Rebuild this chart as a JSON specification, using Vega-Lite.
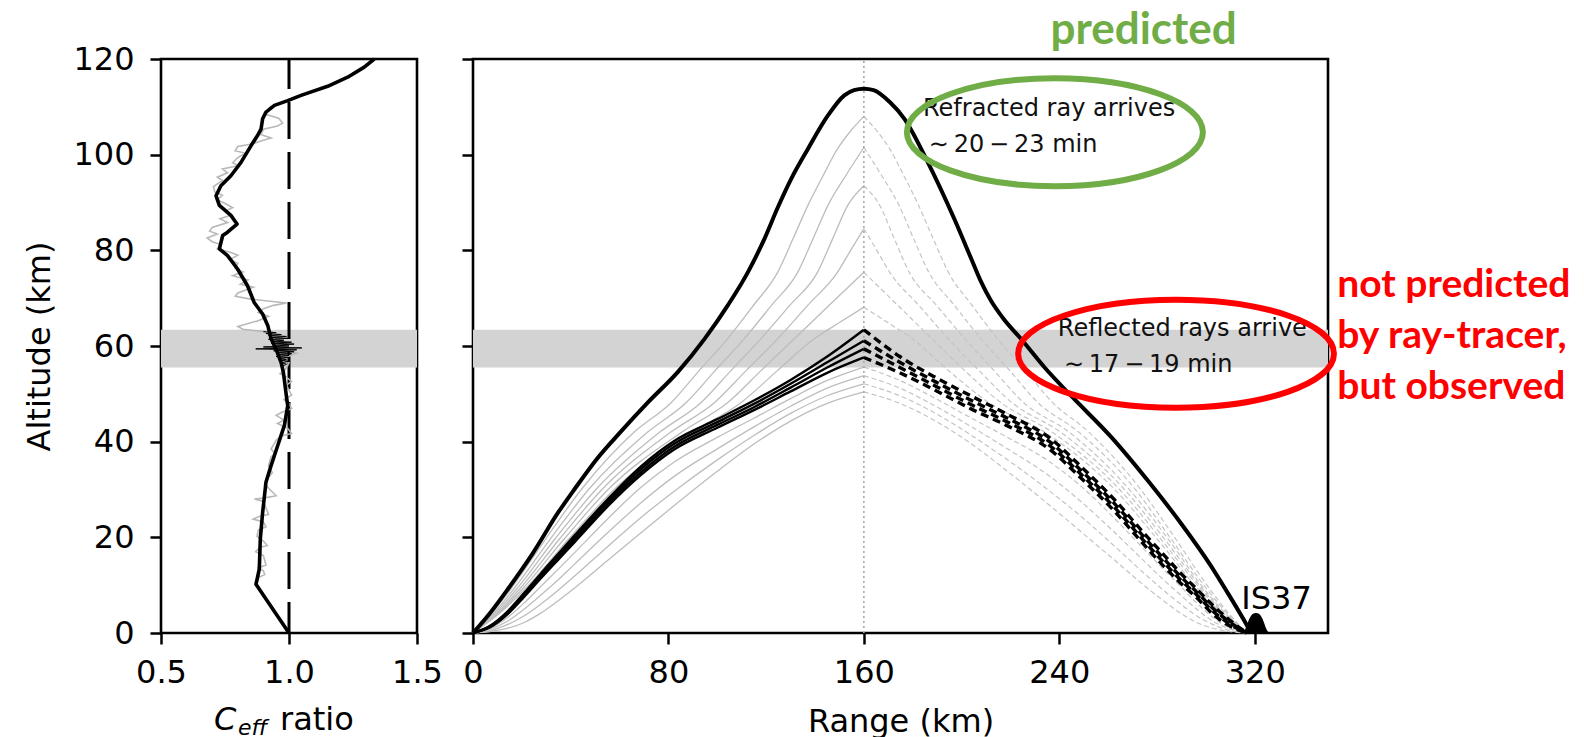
{
  "$schema": "https://vega.github.io/schema/vega-lite/v6.json",
  "background": "white",
  "padding": {"left": 22, "top": 7, "right": 0, "bottom": 0},
  "spacing": 15,
  "config": {
    "font": "DejaVu Sans",
    "view": {"stroke": "#000000", "strokeWidth": 2.6},
    "axis": {"domain": false, "grid": false, "labelFlush": false, "labelOverlap": false, "tickSize": 11, "tickWidth": 2.5, "tickColor": "#000000", "labelFont": "DejaVu Sans", "labelFontSize": 32, "labelColor": "#000000", "titleFont": "DejaVu Sans", "titleFontSize": 32, "titleFontWeight": "normal", "titleColor": "#000000"},
    "axisX": {"labelPadding": 13, "titlePadding": 18},
    "axisY": {"labelPadding": 16, "titlePadding": 16}
  },
  "datasets": {
    "ceff": [
      {"r":1.333,"a":120},{"r":1.294,"a":118.3},{"r":1.229,"a":116.2},{"r":1.151,"a":114.3},{"r":1.047,"a":112.4},{"r":0.995,"a":111.3},{"r":0.943,"a":110.3},{"r":0.91,"a":108.9},{"r":0.897,"a":107.5},{"r":0.891,"a":105.4},{"r":0.877,"a":104.0},{"r":0.852,"a":101.9},{"r":0.8125,"a":98.4},{"r":0.773,"a":95.6},{"r":0.734,"a":93.5},{"r":0.715,"a":91.4},{"r":0.728,"a":89.4},{"r":0.773,"a":87.3},{"r":0.797,"a":85.5},{"r":0.76,"a":83.8},{"r":0.741,"a":83.1},{"r":0.728,"a":80.3},{"r":0.76,"a":78.9},{"r":0.799,"a":76.1},{"r":0.838,"a":72.6},{"r":0.864,"a":69.1},{"r":0.897,"a":66.7},{"r":0.917,"a":64.3},{"r":0.93,"a":61.5},{"r":0.949,"a":59.4},{"r":0.969,"a":56.6},{"r":0.978,"a":54.5},{"r":0.988,"a":50.3},{"r":0.995,"a":47.5},{"r":0.982,"a":43.4},{"r":0.956,"a":39.2},{"r":0.93,"a":35.0},{"r":0.91,"a":31.5},{"r":0.897,"a":25.2},{"r":0.888,"a":19.7},{"r":0.884,"a":13.4},{"r":0.877,"a":11.6},{"r":0.871,"a":10.2},{"r":1.0,"a":0}
    ],
    "ceffGray": [
      {"r":0.93,"a":110.2},{"r":0.905,"a":108.5},{"r":0.96,"a":107.6},{"r":0.975,"a":106.6},{"r":0.955,"a":106.0},{"r":0.9,"a":105.3},{"r":0.89,"a":104.2},{"r":0.93,"a":103.5},{"r":0.9,"a":103.0},{"r":0.86,"a":102.3},{"r":0.8,"a":101.7},{"r":0.79,"a":100.8},{"r":0.83,"a":100.3},{"r":0.8,"a":99.4},{"r":0.78,"a":98.3},{"r":0.8,"a":97.7},{"r":0.74,"a":97.0},{"r":0.76,"a":96.2},{"r":0.72,"a":95.3},{"r":0.74,"a":94.6},{"r":0.705,"a":93.3},{"r":0.71,"a":92.2},{"r":0.74,"a":91.5},{"r":0.72,"a":90.6},{"r":0.75,"a":89.8},{"r":0.78,"a":88.9},{"r":0.75,"a":88.2},{"r":0.77,"a":87.3},{"r":0.73,"a":86.6},{"r":0.76,"a":85.8},{"r":0.7,"a":84.8},{"r":0.69,"a":84.0},{"r":0.72,"a":83.4},{"r":0.68,"a":82.6},{"r":0.7,"a":81.8},{"r":0.735,"a":81.2},{"r":0.72,"a":80.3},{"r":0.77,"a":79.6},{"r":0.8,"a":79.0},{"r":0.77,"a":78.1},{"r":0.8,"a":77.3},{"r":0.79,"a":76.2},{"r":0.82,"a":75.5},{"r":0.78,"a":74.7},{"r":0.84,"a":73.8},{"r":0.81,"a":72.9},{"r":0.86,"a":72.3},{"r":0.8,"a":71.1},{"r":0.79,"a":70.4},{"r":0.85,"a":69.8},{"r":0.99,"a":69.0},{"r":0.94,"a":68.5},{"r":0.9,"a":67.8},{"r":0.88,"a":67.0},{"r":0.92,"a":66.2},{"r":0.88,"a":65.3},{"r":0.8,"a":64.1},{"r":0.82,"a":63.5},{"r":0.9,"a":63.0},{"r":0.94,"a":62.0},{"r":0.97,"a":61.0},{"r":0.94,"a":60.2},{"r":0.99,"a":59.0},{"r":1.03,"a":58.5},{"r":0.97,"a":57.3},{"r":1.0,"a":56.5},{"r":0.985,"a":55.0},{"r":0.965,"a":54.2},{"r":0.99,"a":53.5},{"r":1.01,"a":52.6},{"r":0.99,"a":51.8},{"r":1.0,"a":50.8},{"r":1.01,"a":49.7},{"r":0.98,"a":48.8},{"r":1.0,"a":47.9},{"r":1.01,"a":46.9},{"r":0.97,"a":46.1},{"r":0.95,"a":45.5},{"r":0.98,"a":44.5},{"r":0.955,"a":43.8},{"r":0.995,"a":42.8},{"r":1.01,"a":41.7},{"r":0.97,"a":41.2},{"r":0.95,"a":40.3},{"r":0.93,"a":38.5},{"r":0.945,"a":37.5},{"r":0.93,"a":36.8},{"r":0.92,"a":35.0},{"r":0.935,"a":33.5},{"r":0.915,"a":32.2},{"r":0.905,"a":31.2},{"r":0.925,"a":30.0},{"r":0.95,"a":28.7},{"r":0.9,"a":28.2},{"r":0.865,"a":28.0},{"r":0.9,"a":27.5},{"r":0.92,"a":24.8},{"r":0.88,"a":24.3},{"r":0.86,"a":23.8},{"r":0.9,"a":23.2},{"r":0.91,"a":22.2},{"r":0.88,"a":21.5},{"r":0.875,"a":20.2},{"r":0.9,"a":19.2},{"r":0.915,"a":18.3},{"r":0.885,"a":17.9},{"r":0.87,"a":17.0},{"r":0.9,"a":16.2},{"r":0.91,"a":14.2},{"r":0.88,"a":13.6},{"r":0.9,"a":13.0},{"r":0.905,"a":12.2},{"r":0.88,"a":11.6},{"r":0.872,"a":10.4}
    ],
    "ceffJit": [
      {"r":0.9,"a":63.0},{"r":0.95,"a":62.8},{"r":0.91,"a":62.6},{"r":0.97,"a":62.4},{"r":0.92,"a":62.2},{"r":0.99,"a":62.0},{"r":0.93,"a":61.8},{"r":1.0,"a":61.6},{"r":0.92,"a":61.4},{"r":0.98,"a":61.2},{"r":0.94,"a":61.0},{"r":1.01,"a":60.8},{"r":0.93,"a":60.6},{"r":1.02,"a":60.4},{"r":0.95,"a":60.2},{"r":1.0,"a":60.0},{"r":0.9,"a":59.8},{"r":1.05,"a":59.6},{"r":0.87,"a":59.4},{"r":1.03,"a":59.2},{"r":0.94,"a":59.0},{"r":1.02,"a":58.8},{"r":0.95,"a":58.6},{"r":1.01,"a":58.4},{"r":0.96,"a":58.2},{"r":1.0,"a":58.0},{"r":0.95,"a":57.8},{"r":1.0,"a":57.6},{"r":0.96,"a":57.4},{"r":0.99,"a":57.2},{"r":0.97,"a":57.0},{"r":1.0,"a":56.8},{"r":0.97,"a":56.5},{"r":0.99,"a":56.2},{"r":0.975,"a":55.8}
    ],
    "rays": [
      {"g":"r1","k":"gu","x":0,"y":0},{"g":"r1","k":"gu","x":7.5,"y":4},{"g":"r1","k":"gu","x":15.5,"y":9.2},{"g":"r1","k":"gu","x":29.8,"y":19.7},{"g":"r1","k":"gu","x":44.5,"y":30.1},{"g":"r1","k":"gu","x":66,"y":42},{"g":"r1","k":"gu","x":81.2,"y":48.2},{"g":"r1","k":"gu","x":92.5,"y":54.8},{"g":"r1","k":"gu","x":104.2,"y":61.5},{"g":"r1","k":"gu","x":114.5,"y":68.3},{"g":"r1","k":"gu","x":124.7,"y":75.4},{"g":"r1","k":"gu","x":131,"y":82.4},{"g":"r1","k":"gu","x":137.1,"y":89.4},{"g":"r1","k":"gu","x":143.2,"y":95.5},{"g":"r1","k":"gu","x":149.2,"y":101.2},{"g":"r1","k":"gu","x":154.5,"y":104.9},{"g":"r1","k":"gu","x":160,"y":108},
      {"g":"r1","k":"gd","x":160,"y":108},{"g":"r1","k":"gd","x":165.4,"y":104.9},{"g":"r1","k":"gd","x":170.6,"y":101.2},{"g":"r1","k":"gd","x":176.5,"y":95.5},{"g":"r1","k":"gd","x":182.4,"y":89.4},{"g":"r1","k":"gd","x":188.4,"y":82.4},{"g":"r1","k":"gd","x":194.6,"y":75.4},{"g":"r1","k":"gd","x":204.6,"y":68.3},{"g":"r1","k":"gd","x":214.7,"y":61.5},{"g":"r1","k":"gd","x":226.2,"y":54.8},{"g":"r1","k":"gd","x":237.2,"y":48.2},{"g":"r1","k":"gd","x":252.1,"y":42},{"g":"r1","k":"gd","x":273.2,"y":30.1},{"g":"r1","k":"gd","x":287.6,"y":19.7},{"g":"r1","k":"gd","x":301.6,"y":9.2},{"g":"r1","k":"gd","x":309.5,"y":4},{"g":"r1","k":"gd","x":316.8,"y":0},
      {"g":"r2","k":"gu","x":0,"y":0},{"g":"r2","k":"gu","x":8.2,"y":4},{"g":"r2","k":"gu","x":16.7,"y":9.2},{"g":"r2","k":"gu","x":31.7,"y":19.7},{"g":"r2","k":"gu","x":47.5,"y":30.1},{"g":"r2","k":"gu","x":71.5,"y":42},{"g":"r2","k":"gu","x":87.3,"y":48.2},{"g":"r2","k":"gu","x":99,"y":54.8},{"g":"r2","k":"gu","x":111,"y":61.5},{"g":"r2","k":"gu","x":122,"y":68.4},{"g":"r2","k":"gu","x":132.9,"y":75.4},{"g":"r2","k":"gu","x":139.2,"y":82.4},{"g":"r2","k":"gu","x":145.3,"y":89.4},{"g":"r2","k":"gu","x":152.7,"y":95.7},{"g":"r2","k":"gu","x":160,"y":101.5},
      {"g":"r2","k":"gd","x":160,"y":101.5},{"g":"r2","k":"gd","x":167.2,"y":95.7},{"g":"r2","k":"gd","x":174.4,"y":89.4},{"g":"r2","k":"gd","x":180.4,"y":82.4},{"g":"r2","k":"gd","x":186.6,"y":75.4},{"g":"r2","k":"gd","x":197.2,"y":68.4},{"g":"r2","k":"gd","x":208,"y":61.5},{"g":"r2","k":"gd","x":219.8,"y":54.8},{"g":"r2","k":"gd","x":231.2,"y":48.2},{"g":"r2","k":"gd","x":248,"y":42},{"g":"r2","k":"gd","x":271,"y":30.1},{"g":"r2","k":"gd","x":285.7,"y":19.7},{"g":"r2","k":"gd","x":300.4,"y":9.2},{"g":"r2","k":"gd","x":308.8,"y":4},{"g":"r2","k":"gd","x":316.8,"y":0},
      {"g":"r3","k":"gu","x":0,"y":0},{"g":"r3","k":"gu","x":8.8,"y":4},{"g":"r3","k":"gu","x":17.9,"y":9.2},{"g":"r3","k":"gu","x":33.6,"y":19.7},{"g":"r3","k":"gu","x":50.5,"y":30.1},{"g":"r3","k":"gu","x":76.5,"y":42},{"g":"r3","k":"gu","x":93.4,"y":48.2},{"g":"r3","k":"gu","x":105.5,"y":54.8},{"g":"r3","k":"gu","x":117.8,"y":61.5},{"g":"r3","k":"gu","x":129.5,"y":68.4},{"g":"r3","k":"gu","x":141,"y":75.4},{"g":"r3","k":"gu","x":147.3,"y":82.5},{"g":"r3","k":"gu","x":153.4,"y":89.4},{"g":"r3","k":"gu","x":160,"y":93.5},
      {"g":"r3","k":"gd","x":160,"y":93.5},{"g":"r3","k":"gd","x":166.5,"y":89.4},{"g":"r3","k":"gd","x":172.4,"y":82.5},{"g":"r3","k":"gd","x":178.6,"y":75.4},{"g":"r3","k":"gd","x":189.9,"y":68.4},{"g":"r3","k":"gd","x":201.4,"y":61.5},{"g":"r3","k":"gd","x":213.4,"y":54.8},{"g":"r3","k":"gd","x":225.3,"y":48.2},{"g":"r3","k":"gd","x":244,"y":42},{"g":"r3","k":"gd","x":268.5,"y":30.1},{"g":"r3","k":"gd","x":284.5,"y":19.7},{"g":"r3","k":"gd","x":299.3,"y":9.2},{"g":"r3","k":"gd","x":308.2,"y":4},{"g":"r3","k":"gd","x":316.8,"y":0},
      {"g":"r4","k":"gu","x":0,"y":0},{"g":"r4","k":"gu","x":9.5,"y":4},{"g":"r4","k":"gu","x":19.1,"y":9.2},{"g":"r4","k":"gu","x":35.5,"y":19.7},{"g":"r4","k":"gu","x":53,"y":30.1},{"g":"r4","k":"gu","x":81,"y":42},{"g":"r4","k":"gu","x":98.9,"y":48.2},{"g":"r4","k":"gu","x":111.7,"y":54.8},{"g":"r4","k":"gu","x":124.7,"y":61.5},{"g":"r4","k":"gu","x":137,"y":68.5},{"g":"r4","k":"gu","x":149.2,"y":75.4},{"g":"r4","k":"gu","x":154.7,"y":80.1},{"g":"r4","k":"gu","x":160,"y":84.5},
      {"g":"r4","k":"gd","x":160,"y":84.5},{"g":"r4","k":"gd","x":165.2,"y":80.1},{"g":"r4","k":"gd","x":170.6,"y":75.4},{"g":"r4","k":"gd","x":182.5,"y":68.5},{"g":"r4","k":"gd","x":194.6,"y":61.5},{"g":"r4","k":"gd","x":207.3,"y":54.8},{"g":"r4","k":"gd","x":220.5,"y":48.2},{"g":"r4","k":"gd","x":240.5,"y":42},{"g":"r4","k":"gd","x":266.5,"y":30.1},{"g":"r4","k":"gd","x":283,"y":19.7},{"g":"r4","k":"gd","x":298.6,"y":9.2},{"g":"r4","k":"gd","x":307.6,"y":4},{"g":"r4","k":"gd","x":316.8,"y":0},
      {"g":"r5","k":"gu","x":0,"y":0},{"g":"r5","k":"gu","x":10.1,"y":4},{"g":"r5","k":"gu","x":20.2,"y":9.2},{"g":"r5","k":"gu","x":37.4,"y":19.7},{"g":"r5","k":"gu","x":55.5,"y":30.1},{"g":"r5","k":"gu","x":85.5,"y":42},{"g":"r5","k":"gu","x":104.3,"y":48.2},{"g":"r5","k":"gu","x":118,"y":54.9},{"g":"r5","k":"gu","x":131.5,"y":61.5},{"g":"r5","k":"gu","x":145.8,"y":68.5},{"g":"r5","k":"gu","x":160,"y":75.4},
      {"g":"r5","k":"gd","x":160,"y":75.4},{"g":"r5","k":"gd","x":173.9,"y":68.5},{"g":"r5","k":"gd","x":187.9,"y":61.5},{"g":"r5","k":"gd","x":201.2,"y":54.9},{"g":"r5","k":"gd","x":216,"y":48.2},{"g":"r5","k":"gd","x":237,"y":42},{"g":"r5","k":"gd","x":264.5,"y":30.1},{"g":"r5","k":"gd","x":281.5,"y":19.7},{"g":"r5","k":"gd","x":297.8,"y":9.2},{"g":"r5","k":"gd","x":307.2,"y":4},{"g":"r5","k":"gd","x":316.8,"y":0},
      {"g":"r6","k":"gu","x":0,"y":0},{"g":"r6","k":"gu","x":10.6,"y":4},{"g":"r6","k":"gu","x":21.3,"y":9.2},{"g":"r6","k":"gu","x":39.3,"y":19.7},{"g":"r6","k":"gu","x":58,"y":30.1},{"g":"r6","k":"gu","x":90,"y":42},{"g":"r6","k":"gu","x":109.8,"y":48.2},{"g":"r6","k":"gu","x":124.5,"y":54.8},{"g":"r6","k":"gu","x":139.7,"y":61.5},{"g":"r6","k":"gu","x":150,"y":64.9},{"g":"r6","k":"gu","x":160,"y":68.1},
      {"g":"r6","k":"gd","x":160,"y":68.1},{"g":"r6","k":"gd","x":169.8,"y":64.9},{"g":"r6","k":"gd","x":179.9,"y":61.5},{"g":"r6","k":"gd","x":194.8,"y":54.8},{"g":"r6","k":"gd","x":211,"y":48.2},{"g":"r6","k":"gd","x":234,"y":42},{"g":"r6","k":"gd","x":262.5,"y":30.1},{"g":"r6","k":"gd","x":280,"y":19.7},{"g":"r6","k":"gd","x":296.8,"y":9.2},{"g":"r6","k":"gd","x":306.8,"y":4},{"g":"r6","k":"gd","x":316.8,"y":0},
      {"g":"l1","k":"gu","x":0,"y":0},{"g":"l1","k":"gu","x":7,"y":1.0},{"g":"l1","k":"gu","x":14.3,"y":3.3},{"g":"l1","k":"gu","x":21,"y":6.3},{"g":"l1","k":"gu","x":27.9,"y":9.8},{"g":"l1","k":"gu","x":35,"y":13.4},{"g":"l1","k":"gu","x":41.6,"y":16.8},{"g":"l1","k":"gu","x":55.2,"y":23.9},{"g":"l1","k":"gu","x":68.9,"y":30.5},{"g":"l1","k":"gu","x":82.5,"y":35.8},{"g":"l1","k":"gu","x":100,"y":40.9},{"g":"l1","k":"gu","x":115,"y":44.9},{"g":"l1","k":"gu","x":130,"y":49.0},{"g":"l1","k":"gu","x":145,"y":52.8},{"g":"l1","k":"gu","x":160,"y":55.6},
      {"g":"l1","k":"gd","x":160,"y":55.6},{"g":"l1","k":"gd","x":174.7,"y":52.8},{"g":"l1","k":"gd","x":189.4,"y":49.0},{"g":"l1","k":"gd","x":204.1,"y":44.9},{"g":"l1","k":"gd","x":218.8,"y":40.9},{"g":"l1","k":"gd","x":236,"y":35.8},{"g":"l1","k":"gd","x":249.3,"y":30.5},{"g":"l1","k":"gd","x":262.7,"y":23.9},{"g":"l1","k":"gd","x":276,"y":16.8},{"g":"l1","k":"gd","x":282.5,"y":13.4},{"g":"l1","k":"gd","x":289.5,"y":9.8},{"g":"l1","k":"gd","x":296.2,"y":6.3},{"g":"l1","k":"gd","x":302.8,"y":3.3},{"g":"l1","k":"gd","x":310,"y":1.0},{"g":"l1","k":"gd","x":316.8,"y":0},
      {"g":"l2","k":"gu","x":0,"y":0},{"g":"l2","k":"gu","x":7,"y":0.8},{"g":"l2","k":"gu","x":14.3,"y":2.5},{"g":"l2","k":"gu","x":21,"y":5.0},{"g":"l2","k":"gu","x":27.9,"y":8.0},{"g":"l2","k":"gu","x":35,"y":11.2},{"g":"l2","k":"gu","x":41.6,"y":14.4},{"g":"l2","k":"gu","x":55.2,"y":21.0},{"g":"l2","k":"gu","x":68.9,"y":27.3},{"g":"l2","k":"gu","x":82.5,"y":32.8},{"g":"l2","k":"gu","x":100,"y":38.5},{"g":"l2","k":"gu","x":115,"y":43.1},{"g":"l2","k":"gu","x":130,"y":47.4},{"g":"l2","k":"gu","x":145,"y":51.2},{"g":"l2","k":"gu","x":160,"y":53.8},
      {"g":"l2","k":"gd","x":160,"y":53.8},{"g":"l2","k":"gd","x":174.7,"y":51.2},{"g":"l2","k":"gd","x":189.4,"y":47.4},{"g":"l2","k":"gd","x":204.1,"y":43.1},{"g":"l2","k":"gd","x":218.8,"y":38.5},{"g":"l2","k":"gd","x":236,"y":32.8},{"g":"l2","k":"gd","x":249.3,"y":27.3},{"g":"l2","k":"gd","x":262.7,"y":21.0},{"g":"l2","k":"gd","x":276,"y":14.4},{"g":"l2","k":"gd","x":282.5,"y":11.2},{"g":"l2","k":"gd","x":289.5,"y":8.0},{"g":"l2","k":"gd","x":296.2,"y":5.0},{"g":"l2","k":"gd","x":302.8,"y":2.5},{"g":"l2","k":"gd","x":310,"y":0.8},{"g":"l2","k":"gd","x":316.8,"y":0},
      {"g":"l3","k":"gu","x":0,"y":0},{"g":"l3","k":"gu","x":7,"y":0.5},{"g":"l3","k":"gu","x":14.3,"y":1.8},{"g":"l3","k":"gu","x":21,"y":3.6},{"g":"l3","k":"gu","x":27.9,"y":6.1},{"g":"l3","k":"gu","x":35,"y":9.0},{"g":"l3","k":"gu","x":41.6,"y":11.9},{"g":"l3","k":"gu","x":55.2,"y":18.1},{"g":"l3","k":"gu","x":68.9,"y":24.2},{"g":"l3","k":"gu","x":82.5,"y":29.7},{"g":"l3","k":"gu","x":100,"y":36.2},{"g":"l3","k":"gu","x":115,"y":41.3},{"g":"l3","k":"gu","x":130,"y":45.9},{"g":"l3","k":"gu","x":145,"y":49.6},{"g":"l3","k":"gu","x":160,"y":52.1},
      {"g":"l3","k":"gd","x":160,"y":52.1},{"g":"l3","k":"gd","x":174.7,"y":49.6},{"g":"l3","k":"gd","x":189.4,"y":45.9},{"g":"l3","k":"gd","x":204.1,"y":41.3},{"g":"l3","k":"gd","x":218.8,"y":36.2},{"g":"l3","k":"gd","x":236,"y":29.7},{"g":"l3","k":"gd","x":249.3,"y":24.2},{"g":"l3","k":"gd","x":262.7,"y":18.1},{"g":"l3","k":"gd","x":276,"y":11.9},{"g":"l3","k":"gd","x":282.5,"y":9.0},{"g":"l3","k":"gd","x":289.5,"y":6.1},{"g":"l3","k":"gd","x":296.2,"y":3.6},{"g":"l3","k":"gd","x":302.8,"y":1.8},{"g":"l3","k":"gd","x":310,"y":0.5},{"g":"l3","k":"gd","x":316.8,"y":0},
      {"g":"l4","k":"gu","x":0,"y":0},{"g":"l4","k":"gu","x":7,"y":0.3},{"g":"l4","k":"gu","x":14.3,"y":1.0},{"g":"l4","k":"gu","x":21,"y":2.2},{"g":"l4","k":"gu","x":27.9,"y":4.2},{"g":"l4","k":"gu","x":35,"y":6.8},{"g":"l4","k":"gu","x":41.6,"y":9.4},{"g":"l4","k":"gu","x":55.2,"y":15.2},{"g":"l4","k":"gu","x":68.9,"y":21.0},{"g":"l4","k":"gu","x":82.5,"y":26.7},{"g":"l4","k":"gu","x":100,"y":33.8},{"g":"l4","k":"gu","x":115,"y":39.5},{"g":"l4","k":"gu","x":130,"y":44.3},{"g":"l4","k":"gu","x":145,"y":48.0},{"g":"l4","k":"gu","x":160,"y":50.4},
      {"g":"l4","k":"gd","x":160,"y":50.4},{"g":"l4","k":"gd","x":174.7,"y":48.0},{"g":"l4","k":"gd","x":189.4,"y":44.3},{"g":"l4","k":"gd","x":204.1,"y":39.5},{"g":"l4","k":"gd","x":218.8,"y":33.8},{"g":"l4","k":"gd","x":236,"y":26.7},{"g":"l4","k":"gd","x":249.3,"y":21.0},{"g":"l4","k":"gd","x":262.7,"y":15.2},{"g":"l4","k":"gd","x":276,"y":9.4},{"g":"l4","k":"gd","x":282.5,"y":6.8},{"g":"l4","k":"gd","x":289.5,"y":4.2},{"g":"l4","k":"gd","x":296.2,"y":2.2},{"g":"l4","k":"gd","x":302.8,"y":1.0},{"g":"l4","k":"gd","x":310,"y":0.3},{"g":"l4","k":"gd","x":316.8,"y":0},
      {"g":"b1","k":"bu","x":0,"y":0},{"g":"b1","k":"bu","x":7,"y":1.5},{"g":"b1","k":"bu","x":14.3,"y":4.6},{"g":"b1","k":"bu","x":21,"y":8.4},{"g":"b1","k":"bu","x":27.9,"y":12.5},{"g":"b1","k":"bu","x":35,"y":16.6},{"g":"b1","k":"bu","x":41.6,"y":20.4},{"g":"b1","k":"bu","x":55.2,"y":28.0},{"g":"b1","k":"bu","x":68.9,"y":34.9},{"g":"b1","k":"bu","x":82.5,"y":40.2},{"g":"b1","k":"bu","x":100,"y":44.7},{"g":"b1","k":"bu","x":115,"y":48.6},{"g":"b1","k":"bu","x":130,"y":52.9},{"g":"b1","k":"bu","x":145,"y":57.8},{"g":"b1","k":"bu","x":160,"y":63.4},
      {"g":"b1","k":"bd","x":160,"y":63.4},{"g":"b1","k":"bd","x":174.7,"y":57.8},{"g":"b1","k":"bd","x":189.4,"y":53.4},{"g":"b1","k":"bd","x":204.1,"y":49.5},{"g":"b1","k":"bd","x":218.8,"y":45.7},{"g":"b1","k":"bd","x":236,"y":40.8},{"g":"b1","k":"bd","x":249.3,"y":34.6},{"g":"b1","k":"bd","x":262.7,"y":27.8},{"g":"b1","k":"bd","x":276,"y":20.1},{"g":"b1","k":"bd","x":282.5,"y":16.5},{"g":"b1","k":"bd","x":289.5,"y":12.6},{"g":"b1","k":"bd","x":296.2,"y":9.2},{"g":"b1","k":"bd","x":302.8,"y":5.8},{"g":"b1","k":"bd","x":310,"y":2.6},{"g":"b1","k":"bd","x":316.8,"y":0},
      {"g":"b2","k":"bu","x":0,"y":0},{"g":"b2","k":"bu","x":7,"y":1.4},{"g":"b2","k":"bu","x":14.3,"y":4.4},{"g":"b2","k":"bu","x":21,"y":8.2},{"g":"b2","k":"bu","x":27.9,"y":12.2},{"g":"b2","k":"bu","x":35,"y":16.2},{"g":"b2","k":"bu","x":41.6,"y":19.9},{"g":"b2","k":"bu","x":55.2,"y":27.5},{"g":"b2","k":"bu","x":68.9,"y":34.3},{"g":"b2","k":"bu","x":82.5,"y":39.6},{"g":"b2","k":"bu","x":100,"y":44.1},{"g":"b2","k":"bu","x":115,"y":47.9},{"g":"b2","k":"bu","x":130,"y":52.1},{"g":"b2","k":"bu","x":145,"y":56.6},{"g":"b2","k":"bu","x":160,"y":61.1},
      {"g":"b2","k":"bd","x":160,"y":61.1},{"g":"b2","k":"bd","x":174.7,"y":56.6},{"g":"b2","k":"bd","x":189.4,"y":52.5},{"g":"b2","k":"bd","x":204.1,"y":48.6},{"g":"b2","k":"bd","x":218.8,"y":44.9},{"g":"b2","k":"bd","x":236,"y":40.0},{"g":"b2","k":"bd","x":249.3,"y":33.8},{"g":"b2","k":"bd","x":262.7,"y":27.0},{"g":"b2","k":"bd","x":276,"y":19.3},{"g":"b2","k":"bd","x":282.5,"y":15.7},{"g":"b2","k":"bd","x":289.5,"y":11.9},{"g":"b2","k":"bd","x":296.2,"y":8.6},{"g":"b2","k":"bd","x":302.8,"y":5.2},{"g":"b2","k":"bd","x":310,"y":2.2},{"g":"b2","k":"bd","x":316.8,"y":0},
      {"g":"b3","k":"bu","x":0,"y":0},{"g":"b3","k":"bu","x":7,"y":1.3},{"g":"b3","k":"bu","x":14.3,"y":4.2},{"g":"b3","k":"bu","x":21,"y":7.9},{"g":"b3","k":"bu","x":27.9,"y":11.9},{"g":"b3","k":"bu","x":35,"y":15.8},{"g":"b3","k":"bu","x":41.6,"y":19.4},{"g":"b3","k":"bu","x":55.2,"y":27.0},{"g":"b3","k":"bu","x":68.9,"y":33.7},{"g":"b3","k":"bu","x":82.5,"y":39.0},{"g":"b3","k":"bu","x":100,"y":43.5},{"g":"b3","k":"bu","x":115,"y":47.2},{"g":"b3","k":"bu","x":130,"y":51.3},{"g":"b3","k":"bu","x":145,"y":55.5},{"g":"b3","k":"bu","x":160,"y":59.4},
      {"g":"b3","k":"bd","x":160,"y":59.4},{"g":"b3","k":"bd","x":174.7,"y":55.5},{"g":"b3","k":"bd","x":189.4,"y":51.6},{"g":"b3","k":"bd","x":204.1,"y":47.7},{"g":"b3","k":"bd","x":218.8,"y":44.1},{"g":"b3","k":"bd","x":236,"y":39.2},{"g":"b3","k":"bd","x":249.3,"y":33.0},{"g":"b3","k":"bd","x":262.7,"y":26.2},{"g":"b3","k":"bd","x":276,"y":18.5},{"g":"b3","k":"bd","x":282.5,"y":14.9},{"g":"b3","k":"bd","x":289.5,"y":11.2},{"g":"b3","k":"bd","x":296.2,"y":8.0},{"g":"b3","k":"bd","x":302.8,"y":4.6},{"g":"b3","k":"bd","x":310,"y":1.8},{"g":"b3","k":"bd","x":316.8,"y":0},
      {"g":"b4","k":"bu","x":0,"y":0},{"g":"b4","k":"bu","x":7,"y":1.2},{"g":"b4","k":"bu","x":14.3,"y":4.0},{"g":"b4","k":"bu","x":21,"y":7.6},{"g":"b4","k":"bu","x":27.9,"y":11.5},{"g":"b4","k":"bu","x":35,"y":15.4},{"g":"b4","k":"bu","x":41.6,"y":19.0},{"g":"b4","k":"bu","x":55.2,"y":26.5},{"g":"b4","k":"bu","x":68.9,"y":33.1},{"g":"b4","k":"bu","x":82.5,"y":38.4},{"g":"b4","k":"bu","x":100,"y":42.9},{"g":"b4","k":"bu","x":115,"y":46.6},{"g":"b4","k":"bu","x":130,"y":50.5},{"g":"b4","k":"bu","x":145,"y":54.4},{"g":"b4","k":"bu","x":160,"y":57.6},
      {"g":"b4","k":"bd","x":160,"y":57.6},{"g":"b4","k":"bd","x":174.7,"y":54.4},{"g":"b4","k":"bd","x":189.4,"y":50.7},{"g":"b4","k":"bd","x":204.1,"y":46.8},{"g":"b4","k":"bd","x":218.8,"y":43.3},{"g":"b4","k":"bd","x":236,"y":38.4},{"g":"b4","k":"bd","x":249.3,"y":32.2},{"g":"b4","k":"bd","x":262.7,"y":25.4},{"g":"b4","k":"bd","x":276,"y":17.7},{"g":"b4","k":"bd","x":282.5,"y":14.1},{"g":"b4","k":"bd","x":289.5,"y":10.5},{"g":"b4","k":"bd","x":296.2,"y":7.4},{"g":"b4","k":"bd","x":302.8,"y":4.0},{"g":"b4","k":"bd","x":310,"y":1.4},{"g":"b4","k":"bd","x":316.8,"y":0},
      {"g":"o","k":"o","x":0,"y":0},{"g":"o","k":"o","x":7,"y":4.2},{"g":"o","k":"o","x":14.3,"y":9.2},{"g":"o","k":"o","x":24.4,"y":16.6},{"g":"o","k":"o","x":35,"y":25.3},{"g":"o","k":"o","x":41.6,"y":30.1},{"g":"o","k":"o","x":50.7,"y":36.4},{"g":"o","k":"o","x":60.7,"y":42.2},{"g":"o","k":"o","x":71.6,"y":48.2},{"g":"o","k":"o","x":83.9,"y":54.6},{"g":"o","k":"o","x":94.8,"y":61.5},{"g":"o","k":"o","x":104.3,"y":68.5},{"g":"o","k":"o","x":112.5,"y":75.4},{"g":"o","k":"o","x":119.3,"y":82.4},{"g":"o","k":"o","x":124.8,"y":89.0},{"g":"o","k":"o","x":130.2,"y":94.9},{"g":"o","k":"o","x":137.1,"y":101.2},{"g":"o","k":"o","x":145.3,"y":108.2},{"g":"o","k":"o","x":152,"y":112.4},{"g":"o","k":"o","x":156,"y":113.5},{"g":"o","k":"o","x":160,"y":113.8},{"g":"o","k":"o","x":164,"y":113.5},{"g":"o","k":"o","x":170.6,"y":111},{"g":"o","k":"o","x":176.6,"y":107.5},{"g":"o","k":"o","x":186.2,"y":98.4},{"g":"o","k":"o","x":197,"y":86.6},{"g":"o","k":"o","x":204,"y":78.2},{"g":"o","k":"o","x":208,"y":73.4},{"g":"o","k":"o","x":212,"y":69.5},{"g":"o","k":"o","x":217,"y":65.8},{"g":"o","k":"o","x":224.3,"y":61.5},{"g":"o","k":"o","x":234,"y":55.5},{"g":"o","k":"o","x":244.8,"y":49.6},{"g":"o","k":"o","x":261.2,"y":41.0},{"g":"o","k":"o","x":276.8,"y":31.5},{"g":"o","k":"o","x":290,"y":22.8},{"g":"o","k":"o","x":302,"y":14.1},{"g":"o","k":"o","x":310,"y":7.5},{"g":"o","k":"o","x":315.7,"y":2.6},{"g":"o","k":"o","x":318.5,"y":0}
    ]
  },
  "hconcat": [
    {
      "width": 256,
      "height": 574,
      "encoding": {
        "x": {"field": "r", "type": "quantitative", "scale": {"domain": [0.5, 1.5], "nice": false, "zero": false}, "axis": {"title": null, "values": [0.5, 1.0, 1.5], "format": ".1f"}},
        "y": {"field": "a", "type": "quantitative", "scale": {"domain": [0, 120], "nice": false}, "axis": {"title": "Altitude (km)", "values": [0, 20, 40, 60, 80, 100, 120]}}
      },
      "layer": [
        {"data": {"values": [{"r": 0.5, "r2": 1.5, "a": 55.5, "a2": 63.4}]}, "mark": {"type": "rect", "color": "#d3d3d3"}, "encoding": {"x2": {"field": "r2"}, "y2": {"field": "a2"}}},
        {"data": {"values": [{"r": 1.0, "a": 0, "a2": 120}]}, "mark": {"type": "rule", "color": "#000000", "strokeWidth": 3, "strokeDash": [37, 13], "strokeDashOffset": 6}, "encoding": {"y2": {"field": "a2"}}},
        {"data": {"name": "ceffGray"}, "mark": {"type": "line", "color": "#b8b8b8", "strokeWidth": 1.6}, "encoding": {"order": {"field": "a", "type": "quantitative"}}},
        {"data": {"name": "ceffJit"}, "mark": {"type": "line", "color": "#000000", "strokeWidth": 1}, "encoding": {"order": {"field": "a", "type": "quantitative"}}},
        {"data": {"name": "ceff"}, "mark": {"type": "line", "color": "#000000", "strokeWidth": 3.6, "strokeJoin": "round"}, "encoding": {"order": {"field": "a", "type": "quantitative"}}},
        {"data": {"values": [{"r": 1.0, "a": 0, "t": "C"}]}, "mark": {"type": "text", "font": "DejaVu Sans", "fontSize": 32, "fontStyle": "italic", "align": "left", "baseline": "alphabetic", "dx": -75, "dy": 97, "color": "#000000"}, "encoding": {"text": {"field": "t"}}},
        {"data": {"values": [{"r": 1.0, "a": 0, "t": "eff"}]}, "mark": {"type": "text", "font": "DejaVu Sans", "fontSize": 22, "fontStyle": "italic", "align": "left", "baseline": "alphabetic", "dx": -51, "dy": 102, "color": "#000000"}, "encoding": {"text": {"field": "t"}}},
        {"data": {"values": [{"r": 1.0, "a": 0, "t": "ratio"}]}, "mark": {"type": "text", "font": "DejaVu Sans", "fontSize": 32, "align": "left", "baseline": "alphabetic", "dx": -9, "dy": 97, "color": "#000000"}, "encoding": {"text": {"field": "t"}}},
        {"data": {"values": [{"r": 1.0, "a": 123.15, "t": "predicted"}]}, "mark": {"type": "text", "font": "Lato", "fontWeight": "bold", "fontSize": 44, "align": "center", "baseline": "alphabetic", "opacity": 0}, "encoding": {"text": {"field": "t"}}}
      ]
    },
    {
      "width": 855,
      "height": 574,
      "encoding": {
        "x": {"field": "x", "type": "quantitative", "scale": {"domain": [0, 350], "nice": false}, "axis": {"title": "Range (km)", "values": [0, 80, 160, 240, 320]}},
        "y": {"field": "y", "type": "quantitative", "scale": {"domain": [0, 120], "nice": false}, "axis": {"title": null, "labels": false, "values": [0, 20, 40, 60, 80, 100, 120]}}
      },
      "layer": [
        {"data": {"values": [{"x": 0, "x2": 350, "y": 55.5, "y2": 63.4}]}, "mark": {"type": "rect", "color": "#d3d3d3"}, "encoding": {"x2": {"field": "x2"}, "y2": {"field": "y2"}}},
        {"data": {"name": "rays"}, "transform": [{"filter": {"field": "k", "equal": "gu"}}], "mark": {"type": "line", "color": "#bdbdbd", "strokeWidth": 1.3, "interpolate": "monotone"}, "encoding": {"detail": {"field": "g"}}},
        {"data": {"name": "rays"}, "transform": [{"filter": {"field": "k", "equal": "gd"}}], "mark": {"type": "line", "color": "#c4c4c4", "strokeWidth": 1.2, "strokeDash": [5, 3], "interpolate": "monotone"}, "encoding": {"detail": {"field": "g"}}},
        {"data": {"values": [{"x": 160, "y": 0, "y2": 120}]}, "mark": {"type": "rule", "color": "#aaaaaa", "strokeWidth": 1.6, "strokeDash": [2, 3]}, "encoding": {"y2": {"field": "y2"}}},
        {"data": {"name": "rays"}, "transform": [{"filter": {"field": "k", "equal": "bu"}}], "mark": {"type": "line", "color": "#000000", "strokeWidth": 2.4, "interpolate": "monotone"}, "encoding": {"detail": {"field": "g"}}},
        {"data": {"name": "rays"}, "transform": [{"filter": {"field": "k", "equal": "bd"}}], "mark": {"type": "line", "color": "#000000", "strokeWidth": 3.4, "strokeDash": [8, 5], "interpolate": "monotone"}, "encoding": {"detail": {"field": "g"}}},
        {"data": {"name": "rays"}, "transform": [{"filter": {"field": "k", "equal": "o"}}], "mark": {"type": "line", "color": "#000000", "strokeWidth": 4, "interpolate": "monotone"}, "encoding": {"detail": {"field": "g"}}},
        {"data": {"values": [{"x": 320.5, "y": 0}]}, "mark": {"type": "point", "shape": "M-0.75,0C-0.4,0,-0.45,-1,0,-1C0.45,-1,0.4,0,0.75,0Z", "size": 1600, "filled": true, "color": "#000000", "opacity": 1}},
        {"data": {"values": [{"x": 314.5, "y": 5.0, "t": "IS37"}]}, "mark": {"type": "text", "font": "DejaVu Sans", "fontSize": 32, "align": "left", "baseline": "alphabetic", "color": "#000000"}, "encoding": {"text": {"field": "t"}}},
        {"data": {"values": [
          {"x": 184.2, "y": 108.0, "t": "Refracted ray arrives"},
          {"x": 186.6, "y": 100.5, "t": "\u223c\u200920\u2009\u2212\u200923 min"},
          {"x": 239.4, "y": 62.0, "t": "Reflected rays arrive"},
          {"x": 241.9, "y": 54.65, "t": "\u223c\u200917\u2009\u2212\u200919 min"}
        ]}, "mark": {"type": "text", "font": "DejaVu Sans", "fontSize": 24, "align": "left", "baseline": "alphabetic", "color": "#111111"}, "encoding": {"text": {"field": "t"}}},
        {"data": {"values": [{"x": 238.2, "y": 104.7}]}, "mark": {"type": "point", "shape": "M-1,0A1,0.365,0,1,1,1,0A1,0.365,0,1,1,-1,0Z", "size": 87616, "filled": false, "color": "#70ad47", "strokeWidth": 6, "opacity": 1}},
        {"data": {"values": [{"x": 287.8, "y": 58.4}]}, "mark": {"type": "point", "shape": "M-1,0A1,0.342,0,1,1,1,0A1,0.342,0,1,1,-1,0Z", "size": 99730, "filled": false, "color": "#ff0000", "strokeWidth": 6, "opacity": 1}},
        {"data": {"values": [{"x": 274.5, "y": 123.15, "t": "predicted"}]}, "mark": {"type": "text", "font": "Lato", "fontWeight": "bold", "fontSize": 44, "align": "center", "baseline": "alphabetic", "color": "#70ad47"}, "encoding": {"text": {"field": "t"}}},
        {"data": {"values": [
          {"x": 353.8, "y": 70.2, "t": "not predicted"},
          {"x": 353.8, "y": 59.5, "t": "by ray-tracer,"},
          {"x": 353.8, "y": 48.9, "t": "but observed"}
        ]}, "mark": {"type": "text", "font": "Lato", "fontWeight": "bold", "fontSize": 39, "align": "left", "baseline": "alphabetic", "color": "#ff0000"}, "encoding": {"text": {"field": "t"}}}
      ]
    }
  ]
}
